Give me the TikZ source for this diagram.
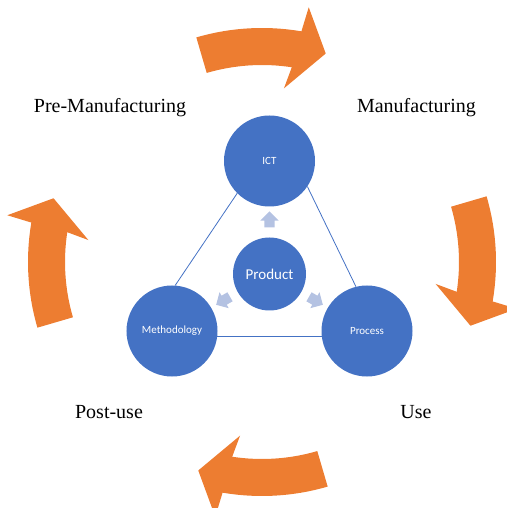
\documentclass[tikz,border=0pt]{standalone}
\usepackage{fontspec}
\setmainfont{Liberation Serif}
\newfontfamily\calibri{Carlito}
\usepackage{tikz}
\usetikzlibrary{shapes.geometric, shapes.arrows, arrows.meta, positioning}
\definecolor{officeblue}{HTML}{4472C4}
\definecolor{officeorange}{HTML}{ED7D31}
\definecolor{paleblue}{RGB}{180,194,226}

\begin{document}
\begin{tikzpicture}[x=1pt, y=1pt, every node/.style={font=\fontsize{20}{24}\selectfont}]
\tikzstyle{pillar} = [circle, fill=officeblue, minimum size=91pt, inner sep=0pt, text=white, font=\calibri\fontsize{11}{13}\selectfont]
\tikzstyle{core} = [circle, fill=officeblue, minimum size=73pt, inner sep=0pt, text=white, font=\calibri\fontsize{15}{18}\selectfont]
\tikzstyle{link} = [draw=officeblue, line width=0.8pt]
\tikzstyle{smallarr} = [single arrow, fill=paleblue, minimum height=16pt, minimum width=18pt, single arrow head extend=4pt, inner xsep=0pt, inner ysep=5pt, text height=0pt, text depth=0pt]
\tikzstyle{stage} = [anchor=base, inner sep=0pt]
\tikzstyle{cycarrow} = [fill=officeorange]

\useasboundingbox (-262,-246) rectangle (244,262);

% Cycle arrows
\foreach \ang in {0,-90,-180,-270}
  \fill[cycarrow, rotate=\ang] (106.3:234) arc[start angle=106.3, end angle=80.3, radius=234]
    -- (79.6:259) -- (73:218) -- (82.8:175) -- (81.3:197)
    arc[start angle=81.3, end angle=106.3, radius=197] -- cycle;

% Stage labels
\node[stage] (pre) at (-152,149) {Pre-Manufacturing};
\node[stage] (manu) at (154.5,149) {Manufacturing};
\node[stage] (use) at (154,-156) {Use};
\node[stage] (post) at (-153,-156) {Post-use};

% Nodes
\node[pillar] (ict) at (7.5,101) {ICT};
\node[pillar] (meth) at (-90,-69) {Methodology};
\node[pillar] (proc) at (105,-69) {Process};
\node[core] (prod) at (7.5,-12) {Product};

% Links
\draw[link] (ict.225) -- (meth.86);
\draw[link] (ict.-34) -- (proc.104);
\draw[link] (meth.-7.6) -- (proc.187.6);

% Small arrows
\node[smallarr, rotate=90] (toict) at ([shift={(90:52)}]prod.center) {};
\node[smallarr, rotate=210] (tometh) at ([shift={(210:51)}]prod.center) {};
\node[smallarr, rotate=-30] (toproc) at ([shift={(-30:51)}]prod.center) {};

\end{tikzpicture}
\end{document}
